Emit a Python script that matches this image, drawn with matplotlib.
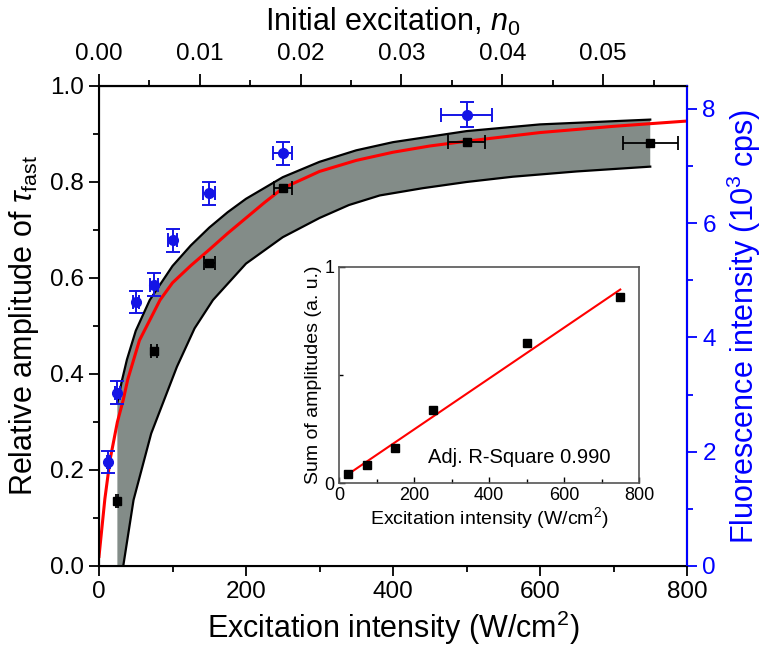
import matplotlib
matplotlib.use('Agg')
import matplotlib.pyplot as plt
import numpy as np

plt.rcParams['font.family'] = ['Liberation Sans', 'DejaVu Sans']
plt.rcParams['mathtext.fontset'] = 'custom'
plt.rcParams['mathtext.rm'] = 'Liberation Sans'
plt.rcParams['mathtext.it'] = 'Liberation Sans:italic'
plt.rcParams['mathtext.bf'] = 'Liberation Sans:bold'

# relative amplitude of tau_fast (black squares)
black_x = [25, 75, 150, 250, 500, 750]
black_y = [0.135, 0.447, 0.632, 0.787, 0.883, 0.881]
black_xerr = [1.25, 3.75, 7.5, 12.5, 25, 37.5]

# fluorescence intensity, 10^3 cps (blue circles)
blue_x = [12.5, 25, 50, 75, 100, 150, 250, 500]
blue_y = [1.82, 3.03, 4.62, 4.92, 5.70, 6.52, 7.22, 7.90]
blue_xerr = [2, 3, 4, 5, 6, 8, 13, 35]
blue_yerr = [0.2, 0.2, 0.2, 0.2, 0.2, 0.2, 0.2, 0.22]

# model curve (red)
red_x = [0, 8, 15, 25, 33, 39, 55, 83, 100, 125, 150, 175, 200, 225, 250, 300, 350,
         400, 450, 500, 600, 700, 800]
red_y = [0.02, 0.14, 0.221, 0.30, 0.346, 0.388, 0.47, 0.554, 0.59, 0.626, 0.659, 0.693,
         0.725, 0.757, 0.787, 0.822, 0.845, 0.862, 0.875, 0.885, 0.903, 0.916, 0.927]

# grey band boundaries
up_x = [25, 31, 38, 50, 69, 100, 125, 150, 175, 200, 250, 300, 350, 400, 500, 600, 750]
up_y = [0.34, 0.385, 0.43, 0.49, 0.554, 0.625, 0.668, 0.705, 0.737, 0.765, 0.81,
        0.842, 0.866, 0.883, 0.906, 0.92, 0.93]
low_x = [25, 33, 47, 71, 106, 130, 155, 200, 250, 300, 340, 382, 440, 500, 563, 650, 750]
low_y = [-0.08, 0.0, 0.1375, 0.276, 0.415, 0.495, 0.554, 0.63, 0.685, 0.725, 0.752,
         0.772, 0.787, 0.80, 0.811, 0.822, 0.832]

# inset: sum of amplitudes
inset_x = [25, 75, 150, 250, 500, 750]
inset_y = [0.042, 0.083, 0.162, 0.338, 0.648, 0.861]

n0_per_intensity = 7.29e-5

fig = plt.figure(figsize=(7.64, 6.48), dpi=100)
ax = fig.add_axes([99 / 764, 1 - 566 / 648, 588 / 764, 480 / 648])

band_x = up_x + low_x[::-1]
band_y = up_y + low_y[::-1]
ax.fill(band_x, band_y, color='#838c88', lw=0, zorder=1)
ax.plot(up_x, up_y, color='black', lw=1.6, zorder=2)
ax.plot(low_x, low_y, color='black', lw=1.6, zorder=2)
ax.plot(red_x, red_y, color='#ff0000', lw=2.2, zorder=4)
ax.errorbar(black_x, black_y, xerr=black_xerr, fmt='s', color='black', ms=6,
            capsize=5, elinewidth=1.3, capthick=1.3, zorder=5)

ax.set_xlim(0, 800)
ax.set_ylim(0, 1.0)
ax.set_xticks([0, 200, 400, 600, 800])
ax.set_xticks([100, 300, 500, 700], minor=True)
ax.set_yticks([0, 0.2, 0.4, 0.6, 0.8, 1.0])
ax.set_yticks([0.1, 0.3, 0.5, 0.7, 0.9], minor=True)
ax.set_yticklabels(['0.0', '0.2', '0.4', '0.6', '0.8', '1.0'])
ax.tick_params(which='major', direction='out', length=7, width=1.3, labelsize=17.5, pad=4)
ax.tick_params(which='minor', direction='out', length=4, width=1.3)
for s in ax.spines.values():
    s.set_linewidth(1.5)
ax.set_xlabel('Excitation intensity (W/cm$^2$)', fontsize=22, labelpad=4)
ax.set_ylabel(r'Relative amplitude of $\tau_{\rm fast}$', fontsize=22, labelpad=6)

# right axis: fluorescence
ax2 = ax.twinx()
ax2.errorbar(blue_x, blue_y, xerr=blue_xerr, yerr=blue_yerr, fmt='o', color='#1414e6',
             ms=7, capsize=5, elinewidth=1.4, capthick=1.4, zorder=6)
ax2.set_ylim(0, 8.4)
ax2.set_yticks([0, 2, 4, 6, 8])
ax2.set_yticks([1, 3, 5, 7], minor=True)
ax2.spines['right'].set_color('blue')
ax2.spines['right'].set_linewidth(1.5)
ax2.tick_params(axis='y', which='major', colors='blue', direction='out', length=7,
                width=1.3, labelsize=17.5, pad=4)
ax2.tick_params(axis='y', which='minor', colors='blue', direction='out', length=4, width=1.3)
ax2.set_ylabel('Fluorescence intensity (10$^3$ cps)', fontsize=22, color='blue', labelpad=6)

# top axis: initial excitation
ax3 = ax.secondary_xaxis('top', functions=(lambda x: x * n0_per_intensity,
                                           lambda n: n / n0_per_intensity))
ax3.set_xticks([0.0, 0.01, 0.02, 0.03, 0.04, 0.05])
ax3.set_xticks([0.005, 0.015, 0.025, 0.035, 0.045, 0.055], minor=True)
ax3.set_xticklabels(['0.00', '0.01', '0.02', '0.03', '0.04', '0.05'])
ax3.tick_params(which='major', direction='out', length=9, width=1.3, labelsize=17.5, pad=6)
ax3.tick_params(which='minor', direction='out', length=4, width=1.3)
ax3.spines['top'].set_linewidth(1.5)
ax3.set_xlabel('Initial excitation, $n_0$', fontsize=22, labelpad=9)

# inset
axi = fig.add_axes([339 / 764, 1 - 483 / 648, 300 / 764, 216 / 648])
fit = np.polyfit(inset_x, inset_y, 1)
fit_x = [inset_x[0], inset_x[-1]]
axi.plot(fit_x, np.polyval(fit, fit_x), color='#ff0000', lw=1.5, zorder=2)
axi.plot(inset_x, inset_y, 's', color='black', ms=6, zorder=3)
axi.set_xlim(0, 800)
axi.set_ylim(0, 1)
axi.set_xticks([0, 200, 400, 600, 800])
axi.set_xticks([100, 300, 500, 700], minor=True)
axi.set_yticks([0, 1])
axi.set_yticks([0.5], minor=True)
axi.tick_params(which='major', direction='in', length=4, width=1, labelsize=13, pad=3)
axi.tick_params(which='minor', direction='in', length=3, width=1)
for s in axi.spines.values():
    s.set_color('#555555')
    s.set_linewidth(1.2)
axi.set_xlabel('Excitation intensity (W/cm$^2$)', fontsize=14, labelpad=1)
axi.set_ylabel('Sum of amplitudes (a. u.)', fontsize=14, labelpad=2)
axi.text(237, 0.116, 'Adj. R-Square 0.990', fontsize=14.5, va='center', ha='left')

fig.savefig('out.png', dpi=100)
